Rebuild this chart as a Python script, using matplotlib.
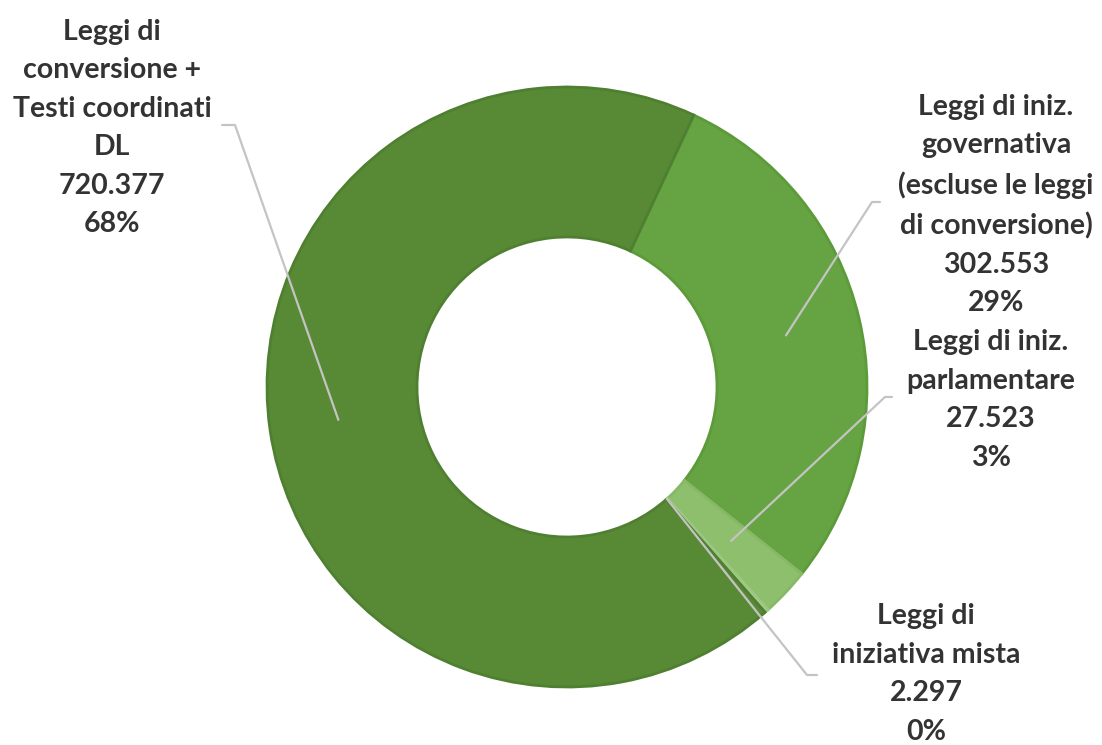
import matplotlib
matplotlib.use("Agg")
import matplotlib.pyplot as plt
import numpy as np

# data
categorie = ["Leggi di iniz.\ngovernativa\n(escluse le leggi\ndi conversione)",
             "Leggi di iniz.\nparlamentare",
             "Leggi di\niniziativa mista",
             "Leggi di\nconversione +\nTesti coordinati\nDL"]
valori = [302553, 27523, 2297, 720377]
colori = ["#66a443", "#8dbf6c", "#a9d08e", "#588a36"]
bordi = ["#5c9a3a", "#86b866", "#9cc781", "#4f7f30"]

# layout (pixels in the 1102x745 picture)
W, H = 1102, 745
cx, cy, R = 567, 387, 300
label_xy = [(996, 205), (991, 400), (926, 674), (112, 128)]
elbow = [((872, 202), (880, 202)), ((885, 397), (892, 397)),
         ((807, 675), (817, 675)), ((235, 125), (222, 125))]
anchor_r = [0.75, 0.75, 0.5, 0.77]
riga_px = 38.5      # distance between text lines
larg_px = 199       # width of "Testi coordinati"

plt.rcParams['font.family'] = ['Lato', 'DejaVu Sans']

def px(x, y):
    return (x - cx) / R, (cy - y) / R

fig = plt.figure(figsize=(W / 100, H / 100), dpi=100)
ax = fig.add_axes([0, 0, 1, 1])

wedges, _ = ax.pie(valori, colors=colori, startangle=65, counterclock=False,
                   radius=1, wedgeprops=dict(width=0.5, linewidth=2))
for w, b in zip(wedges, bordi):
    w.set_edgecolor(b)

# pie() resets the limits, so set them afterwards (1 unit = R pixels)
ax.set_xlim(-cx / R, (W - cx) / R)
ax.set_ylim(-(H - cy) / R, cy / R)
ax.set_aspect("auto")
ax.axis("off")

# fit the font size to the reference width
rend = fig.canvas.get_renderer()
prova = fig.text(0, 0, "Testi coordinati", fontsize=20, fontweight="bold")
fs = 20 * larg_px / prova.get_window_extent(rend).width
prova.remove()

tot = sum(valori)
for i, w in enumerate(wedges):
    mid = np.deg2rad((w.theta1 + w.theta2) / 2)
    a = (anchor_r[i] * np.cos(mid), anchor_r[i] * np.sin(mid))
    e1 = px(*elbow[i][0])
    e2 = px(*elbow[i][1])
    ax.plot([a[0], e1[0], e2[0]], [a[1], e1[1], e2[1]], color="#c4c4c4",
            lw=1.6, zorder=5, solid_capstyle="round")
    val = f"{valori[i]:,}".replace(",", ".")
    pct = f"{round(valori[i] / tot * 100):d}%"
    tx, ty = px(*label_xy[i])
    t = ax.text(tx, ty, f"{categorie[i]}\n{val}\n{pct}", ha="center",
                va="center", fontsize=fs, fontweight="bold", color="#333333",
                zorder=6)
    # baseline step = linespacing * ascent + descent (of "lp")
    _, lh, ld = rend.get_text_width_height_descent(
        "lp", t.get_fontproperties(), ismath=False)
    t.set_linespacing((riga_px - ld) / (lh - ld))
    # recentre the block on the reference position
    bb = t.get_window_extent(rend)
    dx = label_xy[i][0] - (bb.x0 + bb.x1) / 2
    dy = label_xy[i][1] - (H - (bb.y0 + bb.y1) / 2)
    t.set_position(px(label_xy[i][0] + dx, label_xy[i][1] + dy))

fig.savefig("out.png", dpi=100)
